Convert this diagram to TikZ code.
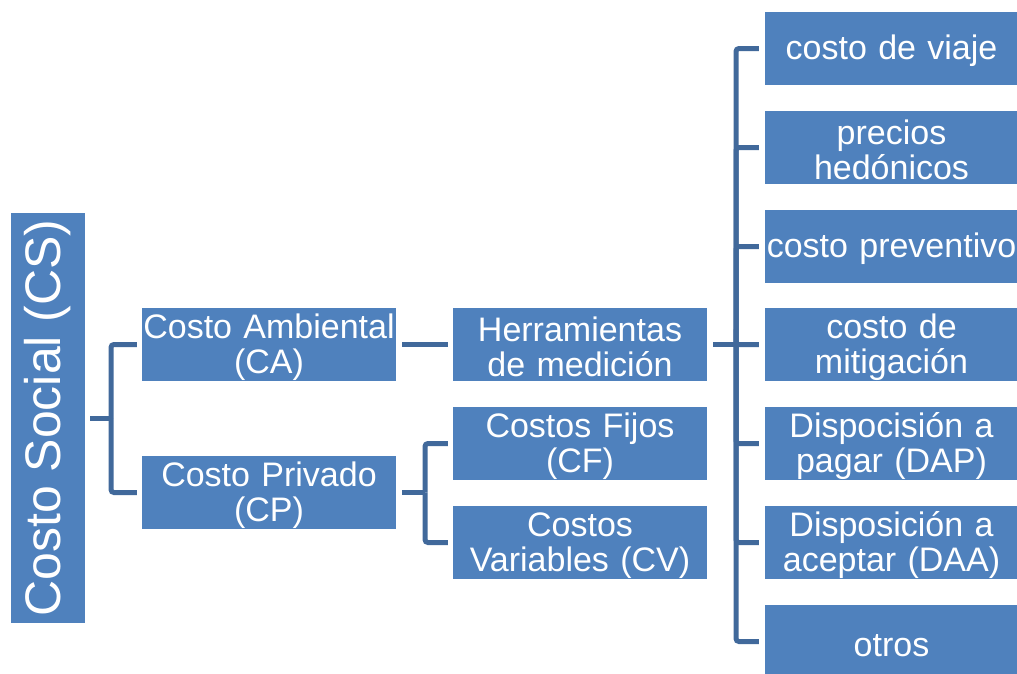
\documentclass[tikz,border=0pt]{standalone}
\usepackage{fontspec}
\setmainfont{Liberation Sans}
\definecolor{boxblue}{HTML}{4F81BD}
\definecolor{lineblue}{HTML}{41699B}
\begin{document}
\begin{tikzpicture}[x=1pt,y=-1pt,
  box/.style={fill=boxblue,draw=none,text=white,inner sep=0pt,
    minimum width=254pt,minimum height=73pt,text width=252pt,align=center,
    font=\fontsize{34}{35}\selectfont,text height=30pt},
  rbox/.style={box,minimum width=253pt,text width=251pt},
  conn/.style={draw=lineblue,line width=5pt,rounded corners=3pt}]
\useasboundingbox (0,0) rectangle (1017,673);
\clip (0,0) rectangle (1017,673);
% root
\node[fill=boxblue,text=white,inner sep=0pt,rotate=90,minimum width=410pt,minimum height=74pt,
  font=\fontsize{50}{51}\selectfont] (cs) at (48,418) {Costo Social (CS)};
% level 1
\node[box] (ca) at (269,344.5) {Costo Ambiental\\(CA)};
\node[box] (cp) at (269,492.5) {Costo Privado\\(CP)};
% level 2
\node[box] (hm) at (580,344.5) {Herramientas\\de medici\'on};
\node[box] (cf) at (580,443.5) {Costos Fijos\\(CF)};
\node[box] (cv) at (580,542.5) {Costos\\Variables (CV)};
% level 3
\node[rbox] (r1) at (891.5,48.5) {costo de viaje};
\node[rbox] (r2) at (891.5,147.5) {precios\\hed\'onicos};
\node[rbox] (r3) at (891.5,246.5) {costo preventivo};
\node[rbox] (r4) at (891.5,344.5) {costo de\\mitigaci\'on};
\node[rbox] (r5) at (891.5,443.5) {Dispocisi\'on a\\pagar (DAP)};
\node[rbox] (r6) at (891.5,542.5) {Disposici\'on a\\aceptar (DAA)};
\node[rbox] (r7) at (891.5,641.5) {otros};
% connectors
\draw[conn] ([xshift=5pt]cs.south |- cs.center) -- ++(21,0);
\foreach \t in {ca,cp}
  \draw[conn] (111,418) |- ([xshift=-5pt]\t.west);
\draw[conn] ([xshift=6pt]ca.east) -- ([xshift=-5pt]hm.west);
\draw[conn] ([xshift=6pt]cp.east) -- ++(23,0);
\foreach \t in {cf,cv}
  \draw[conn] (425,492.5) |- ([xshift=-5pt]\t.west);
\draw[conn] ([xshift=6pt]hm.east) -- ++(23,0);
\foreach \t in {r1,r2,r3,r4,r5,r6,r7}
  \draw[conn] (736,344.5) |- ([xshift=-6pt]\t.west);
\end{tikzpicture}
\end{document}
